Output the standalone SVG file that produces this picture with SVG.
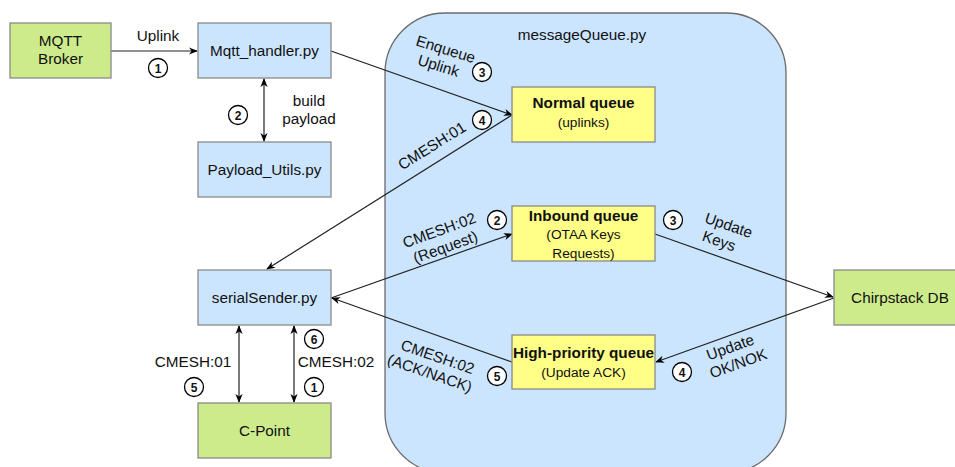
<svg xmlns="http://www.w3.org/2000/svg" width="955" height="467" viewBox="0 0 955 467">
  <defs>
    <marker id="arrow" viewBox="0 0 10 10" refX="9" refY="5" markerWidth="9" markerHeight="9" markerUnits="userSpaceOnUse" orient="auto-start-reverse">
      <path d="M0,1 L10,5 L0,9 L3,5 Z" fill="#000"/>
    </marker>
    <style>
      text { font-family: "Liberation Sans", Arial, sans-serif; fill: #111; }
      .lbl { font-size: 15.3px; text-anchor: middle; }
      .title { font-size: 15.3px; font-weight: bold; text-anchor: middle; }
      .sub { font-size: 13.7px; text-anchor: middle; }
      .num { font-size: 12px; font-weight: bold; text-anchor: middle; }
      .green { fill: #cdeb8b; stroke: #8a8a8a; stroke-width: 1.3; }
      .blue { fill: #cce5ff; stroke: #8a8a8a; stroke-width: 1.3; }
      .yellow { fill: #ffff88; stroke: #8a8a8a; stroke-width: 1.3; }
      .badge { fill: #fff; stroke: #000; stroke-width: 1.3; }
      .edge { fill: none; stroke: #222; stroke-width: 1.2; }
    </style>
  </defs>

  <!-- message queue container -->
  <g id="messageQueue">
    <rect x="385" y="13" width="401" height="460" rx="60" ry="60" fill="#cce5ff" stroke="#6b6b6b" stroke-width="1.3"/>
    <text class="lbl" x="582" y="40">messageQueue.py</text>
  </g>

  <!-- connectors -->
  <g id="connectors">
    <line class="edge" x1="111" y1="51" x2="197" y2="51" marker-end="url(#arrow)"/>
    <line class="edge" x1="264" y1="79" x2="264" y2="141" marker-start="url(#arrow)" marker-end="url(#arrow)"/>
    <line class="edge" x1="331" y1="51" x2="512" y2="115" marker-end="url(#arrow)"/>
    <line class="edge" x1="512" y1="115" x2="267" y2="269" marker-end="url(#arrow)"/>
    <line class="edge" x1="331" y1="298" x2="512" y2="234" marker-end="url(#arrow)"/>
    <line class="edge" x1="512" y1="362" x2="332" y2="298" marker-end="url(#arrow)"/>
    <line class="edge" x1="655" y1="234" x2="833" y2="297" marker-end="url(#arrow)"/>
    <line class="edge" x1="834" y1="298" x2="656" y2="362" marker-end="url(#arrow)"/>
    <line class="edge" x1="239" y1="326" x2="239" y2="402" marker-start="url(#arrow)" marker-end="url(#arrow)"/>
    <line class="edge" x1="294" y1="326" x2="294" y2="402" marker-start="url(#arrow)" marker-end="url(#arrow)"/>
  </g>

  <!-- connector labels -->
  <g id="edge-labels">
    <text class="lbl" x="158" y="41">Uplink</text>
    <text class="lbl" x="309" y="106">build</text>
    <text class="lbl" x="309" y="124">payload</text>
    <g transform="translate(443,58) rotate(17)">
      <text class="lbl" x="0" y="-4">Enqueue</text>
      <text class="lbl" x="-2" y="14">Uplink</text>
    </g>
    <text class="lbl" transform="translate(432,146) rotate(-32)" x="0" y="5">CMESH:01</text>
    <g transform="translate(442,238) rotate(-20)">
      <text class="lbl" x="0" y="-3">CMESH:02</text>
      <text class="lbl" x="0" y="15">(Request)</text>
    </g>
    <g transform="translate(433,364) rotate(19)">
      <text class="lbl" x="2" y="-3">CMESH:02</text>
      <text class="lbl" x="0" y="15">(ACK/NACK)</text>
    </g>
    <g transform="translate(726,233) rotate(19)">
      <text class="lbl" x="0" y="-3">Update</text>
      <text class="lbl" x="-4" y="15">Keys</text>
    </g>
    <g transform="translate(733,355) rotate(-20)">
      <text class="lbl" x="0" y="-3">Update</text>
      <text class="lbl" x="2" y="15">OK/NOK</text>
    </g>
    <text class="lbl" x="193" y="367">CMESH:01</text>
    <text class="lbl" x="336" y="367">CMESH:02</text>
  </g>

  <!-- step badges -->
  <g id="badges">
    <circle class="badge" cx="158" cy="68" r="9.5"/><text class="num" x="158" y="72.5">1</text>
    <circle class="badge" cx="238" cy="115" r="9.5"/><text class="num" x="238" y="119.5">2</text>
    <circle class="badge" cx="482" cy="72" r="9.5"/><text class="num" x="482" y="76.5">3</text>
    <circle class="badge" cx="482" cy="120" r="9.5"/><text class="num" x="482" y="124.5">4</text>
    <circle class="badge" cx="497" cy="220" r="9.5"/><text class="num" x="497" y="224.5">2</text>
    <circle class="badge" cx="497" cy="376" r="9.5"/><text class="num" x="497" y="380.5">5</text>
    <circle class="badge" cx="673" cy="220" r="9.5"/><text class="num" x="673" y="224.5">3</text>
    <circle class="badge" cx="682" cy="372" r="9.5"/><text class="num" x="682" y="376.5">4</text>
    <circle class="badge" cx="194" cy="387" r="9.5"/><text class="num" x="194" y="391.5">5</text>
    <circle class="badge" cx="314" cy="339" r="9.5"/><text class="num" x="314" y="343.5">6</text>
    <circle class="badge" cx="314" cy="387" r="9.5"/><text class="num" x="314" y="391.5">1</text>
  </g>

  <!-- nodes -->
  <g id="mqtt-broker">
    <rect class="green" x="10" y="23" width="101" height="55"/>
    <text class="lbl" x="60.5" y="46">MQTT</text>
    <text class="lbl" x="60.5" y="64">Broker</text>
  </g>
  <g id="mqtt-handler">
    <rect class="blue" x="198" y="23" width="133" height="55"/>
    <text class="lbl" x="264.5" y="55.5">Mqtt_handler.py</text>
  </g>
  <g id="payload-utils">
    <rect class="blue" x="198" y="142" width="133" height="55"/>
    <text class="lbl" x="264.5" y="174.5">Payload_Utils.py</text>
  </g>
  <g id="serial-sender">
    <rect class="blue" x="198" y="270" width="133" height="55"/>
    <text class="lbl" x="264.5" y="303">serialSender.py</text>
  </g>
  <g id="c-point">
    <rect class="green" x="198" y="403" width="133" height="55"/>
    <text class="lbl" x="264.5" y="436">C-Point</text>
  </g>
  <g id="normal-queue">
    <rect class="yellow" x="512" y="87" width="143" height="55"/>
    <text class="title" x="583.5" y="107.5">Normal queue</text>
    <text class="sub" x="583.5" y="127">(uplinks)</text>
  </g>
  <g id="inbound-queue">
    <rect class="yellow" x="512" y="206" width="143" height="55"/>
    <text class="title" x="583.5" y="220.5">Inbound queue</text>
    <text class="sub" x="583.5" y="238.5">(OTAA Keys</text>
    <text class="sub" x="583.5" y="258">Requests)</text>
  </g>
  <g id="high-priority-queue">
    <rect class="yellow" x="512" y="335" width="143" height="54"/>
    <text class="title" x="583.5" y="357.5">High-priority queue</text>
    <text class="sub" x="583.5" y="377">(Update ACK)</text>
  </g>
  <g id="chirpstack-db">
    <rect class="green" x="834" y="270" width="133" height="55"/>
    <text class="lbl" x="900" y="302.5">Chirpstack DB</text>
  </g>
</svg>
